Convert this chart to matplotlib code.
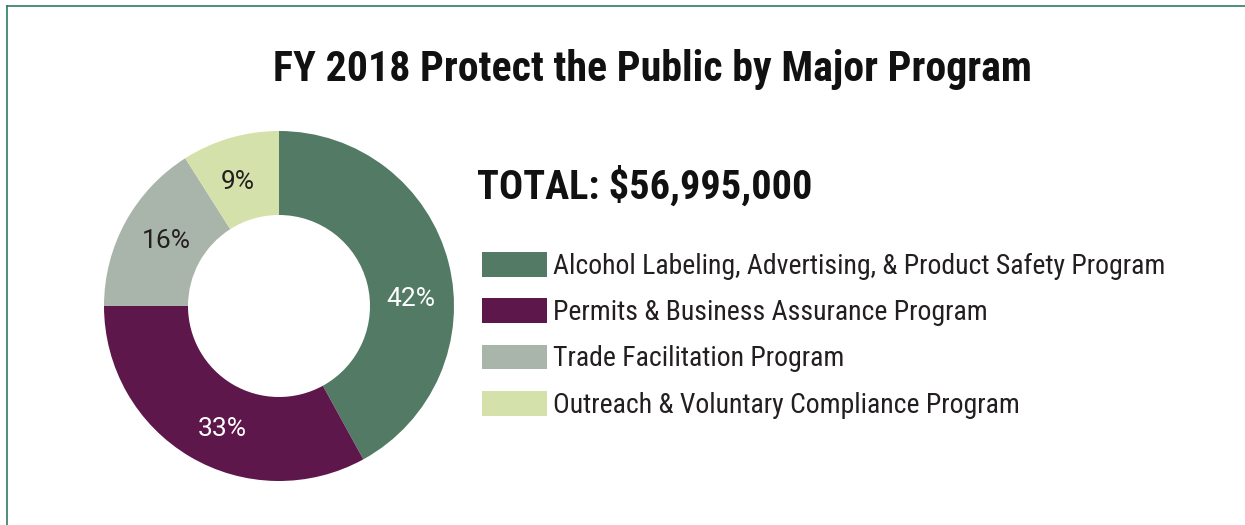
import matplotlib
matplotlib.use('Agg')
import matplotlib.pyplot as plt
from matplotlib.patches import Patch
from matplotlib.lines import Line2D

# data
programs = ['Alcohol Labeling, Advertising, & Product Safety Program',
            'Permits & Business Assurance Program',
            'Trade Facilitation Program',
            'Outreach & Voluntary Compliance Program']
shares = [42, 33, 16, 9]
colors = ['#527a64', '#5e174b', '#a9b5ab', '#d5e1aa']
label_colors = ['white', 'white', '#231f20', '#231f20']
# small nudges of the percent labels (data units of the pie)
label_nudge = [(0.017, -0.15), (0.063, -0.046), (0.023, 0.006), (-0.023, -0.023)]
title = 'FY 2018 Protect the Public by Major Program'
total_text = 'TOTAL: $56,995,000'

plt.rcParams['font.family'] = ['Roboto Condensed', 'DejaVu Sans']

W, H = 1245, 525
fig = plt.figure(figsize=(W / 100, H / 100), dpi=100)
fig.patch.set_facecolor('white')

# border at top and left
bc = '#2e7d62'
fig.add_artist(Line2D([7 / W, 1], [1 - 6 / H, 1 - 6 / H], color=bc, lw=1.2, transform=fig.transFigure))
fig.add_artist(Line2D([7 / W, 7 / W], [0, 1 - 6 / H], color=bc, lw=1.2, transform=fig.transFigure))

ax = fig.add_axes([(279 - 175) / W, (H - 306 - 175) / H, 350 / W, 350 / H])
wedges, texts, autotexts = ax.pie(shares, colors=colors, startangle=90, counterclock=False,
                                  autopct='%d%%', pctdistance=0.76,
                                  wedgeprops=dict(width=0.48, edgecolor='none'))
for t, c, (dx, dy) in zip(autotexts, label_colors, label_nudge):
    t.set_color(c)
    t.set_fontsize(19)
    t.set_family(['Roboto', 'DejaVu Sans'])
    x, y = t.get_position()
    t.set_position((x + dx, y + dy))
ax.set_xlim(-1, 1)
ax.set_ylim(-1, 1)
ax.set_aspect('equal')

fig.text(652 / W, 1 - 70 / H, title, ha='center', va='center',
         fontsize=30.2, fontweight='bold', color='#111111')
fig.text(477 / W, 1 - 186 / H, total_text, ha='left', va='center',
         fontsize=29, fontweight='bold', color='#111111')

handles = [Patch(facecolor=c, edgecolor='none') for c in colors]
fig.legend(handles, programs, loc='upper left', bbox_to_anchor=(482 / W, 1 - 252 / H),
           frameon=False, fontsize=20, handlelength=2.35, handleheight=1.0,
           handletextpad=0.2, labelspacing=0.66, borderpad=0, borderaxespad=0,
           labelcolor='#231f20')

fig.savefig('out.png', dpi=100, facecolor='white')
